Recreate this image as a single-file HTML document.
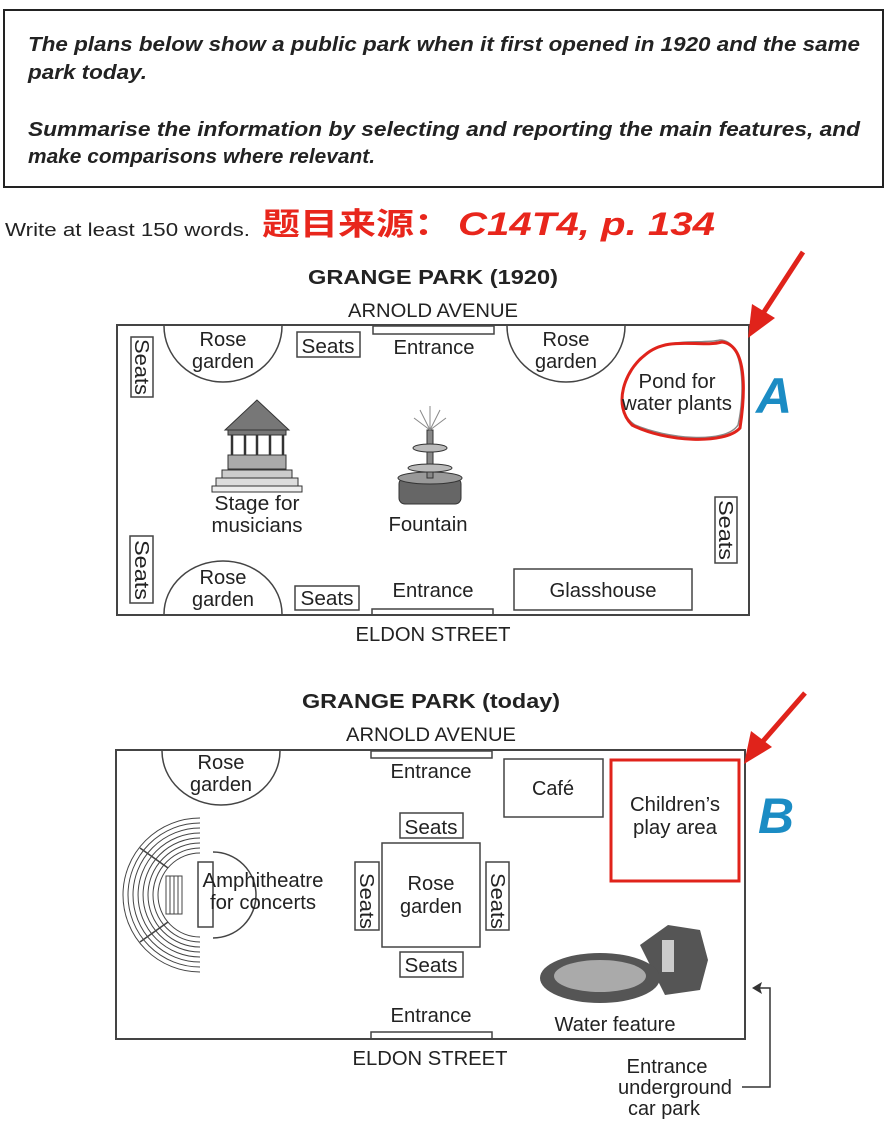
<!DOCTYPE html>
<html><head><meta charset="utf-8"><style>
html,body{margin:0;padding:0;background:#fff}
svg{display:block}
text{font-family:"Liberation Sans",Arial,sans-serif;fill:#222}
</style></head><body>
<svg width="896" height="1125" viewBox="0 0 896 1125" xmlns="http://www.w3.org/2000/svg">
<rect x="4" y="10" width="879" height="177" fill="none" stroke="#222" stroke-width="2"/>
<g font-style="italic" font-weight="bold" font-size="20" lengthAdjust="spacingAndGlyphs">
<text x="28" y="51" textLength="832" lengthAdjust="spacingAndGlyphs">The plans below show a public park when it first opened in 1920 and the same</text>
<text x="28" y="79" textLength="119" lengthAdjust="spacingAndGlyphs">park today.</text>
<text x="28" y="136" textLength="832" lengthAdjust="spacingAndGlyphs">Summarise the information by selecting and reporting the main features, and</text>
<text x="28" y="163" textLength="347" lengthAdjust="spacingAndGlyphs">make comparisons where relevant.</text>
</g>
<text x="5" y="236" font-size="18" textLength="245" lengthAdjust="spacingAndGlyphs">Write at least 150 words.</text>
<text x="262" y="235" font-size="31" font-weight="bold" textLength="190" lengthAdjust="spacingAndGlyphs" style="fill:#e8261c;font-family:'Liberation Sans','Noto Sans CJK SC',sans-serif">题目来源：</text>
<text x="458" y="235" font-size="32" font-weight="bold" font-style="italic" textLength="257" lengthAdjust="spacingAndGlyphs" style="fill:#e8261c">C14T4, p. 134</text>

<!-- Park 1920 -->
<text x="308" y="284" font-size="20" font-weight="bold" textLength="250" lengthAdjust="spacingAndGlyphs">GRANGE PARK (1920)</text>
<text x="348" y="317" font-size="19" textLength="170" lengthAdjust="spacingAndGlyphs">ARNOLD AVENUE</text>
<rect x="117" y="325" width="632" height="290" fill="none" stroke="#444" stroke-width="2"/>
<g fill="none" stroke="#444" stroke-width="1.5">
<rect x="131" y="337" width="22" height="60"/>
<path d="M164 326 A59 56 0 0 0 282 326"/>
<rect x="297" y="332" width="63" height="25"/>
<rect x="373" y="326" width="121" height="8"/>
<path d="M507 326 A59 56 0 0 0 625 326"/>
<rect x="715" y="497" width="22" height="66"/>
<rect x="130" y="536" width="23" height="67"/>
<path d="M164 614 A59 53 0 0 1 282 614"/>
<rect x="295" y="586" width="64" height="24"/>
<rect x="372" y="609" width="121" height="6"/>
<rect x="514" y="569" width="178" height="41"/>
<path d="M640 360 C660 335 700 345 720 340 C745 340 745 395 738 425 C725 445 665 438 635 425 C612 410 622 375 640 360Z" stroke="#888"/>
</g>
<path d="M645 355 C668 335 700 348 722 342 C748 345 745 395 740 428 C725 445 665 442 632 425 C612 405 625 370 645 355Z" fill="none" stroke="#e0231b" stroke-width="3"/>
<g font-size="20" text-anchor="middle">
<text x="223" y="346" textLength="47" lengthAdjust="spacingAndGlyphs">Rose</text><text x="223" y="368" textLength="62" lengthAdjust="spacingAndGlyphs">garden</text>
<text x="328" y="353" textLength="53" lengthAdjust="spacingAndGlyphs">Seats</text>
<text x="434" y="354" textLength="81" lengthAdjust="spacingAndGlyphs">Entrance</text>
<text x="566" y="346" textLength="47" lengthAdjust="spacingAndGlyphs">Rose</text><text x="566" y="368" textLength="62" lengthAdjust="spacingAndGlyphs">garden</text>
<text x="677" y="388" textLength="77" lengthAdjust="spacingAndGlyphs">Pond for</text><text x="677" y="410" textLength="110" lengthAdjust="spacingAndGlyphs">water plants</text>
<text x="257" y="510" textLength="85" lengthAdjust="spacingAndGlyphs">Stage for</text><text x="257" y="532" textLength="91" lengthAdjust="spacingAndGlyphs">musicians</text>
<text x="428" y="531" textLength="79" lengthAdjust="spacingAndGlyphs">Fountain</text>
<text x="223" y="584" textLength="47" lengthAdjust="spacingAndGlyphs">Rose</text><text x="223" y="606" textLength="62" lengthAdjust="spacingAndGlyphs">garden</text>
<text x="327" y="605" textLength="53" lengthAdjust="spacingAndGlyphs">Seats</text>
<text x="433" y="597" textLength="81" lengthAdjust="spacingAndGlyphs">Entrance</text>
<text x="603" y="597" textLength="107" lengthAdjust="spacingAndGlyphs">Glasshouse</text>
<text x="433" y="641" textLength="155" lengthAdjust="spacingAndGlyphs">ELDON STREET</text>
<text transform="translate(135,367) rotate(90)" textLength="56" lengthAdjust="spacingAndGlyphs">Seats</text>
<text transform="translate(135,570) rotate(90)" textLength="60" lengthAdjust="spacingAndGlyphs">Seats</text>
<text transform="translate(719,530) rotate(90)" textLength="60" lengthAdjust="spacingAndGlyphs">Seats</text>
</g>
<!-- stage -->
<g stroke="#333" fill="#777">
<path d="M257 400 L225 430 L289 430 Z"/>
<rect x="228" y="430" width="58" height="5"/>
<g stroke-width="2.5"><line x1="232" y1="435" x2="232" y2="470"/><line x1="245" y1="435" x2="245" y2="470"/><line x1="257" y1="435" x2="257" y2="470"/><line x1="270" y1="435" x2="270" y2="470"/><line x1="283" y1="435" x2="283" y2="470"/></g>
<rect x="228" y="455" width="58" height="14" fill="#aaa"/>
<rect x="222" y="470" width="70" height="8" fill="#ccc"/>
<rect x="216" y="478" width="82" height="8" fill="#ddd"/>
<rect x="212" y="486" width="90" height="6" fill="#eee"/>
<rect x="399" y="478" width="62" height="26" rx="6" fill="#666"/>
<ellipse cx="430" cy="478" rx="32" ry="6" fill="#999"/>
<rect x="427" y="430" width="6" height="48" fill="#888"/>
<ellipse cx="430" cy="468" rx="22" ry="4" fill="#bbb"/>
<ellipse cx="430" cy="448" rx="17" ry="4" fill="#bbb"/>
</g>
<g stroke="#888" stroke-width="1"><line x1="430" y1="430" x2="420" y2="410"/><line x1="430" y1="430" x2="430" y2="406"/><line x1="430" y1="430" x2="440" y2="410"/><line x1="430" y1="430" x2="414" y2="418"/><line x1="430" y1="430" x2="446" y2="418"/></g>
<!-- arrow A -->
<line x1="803" y1="252" x2="760" y2="318" stroke="#e0231b" stroke-width="5"/>
<path d="M748 338 L752 304 L775 318 Z" fill="#e0231b"/>
<text x="756" y="413" font-size="50" font-weight="bold" font-style="italic" style="fill:#1b8cc4">A</text>

<!-- Park today -->
<text x="302" y="708" font-size="20" font-weight="bold" textLength="258" lengthAdjust="spacingAndGlyphs">GRANGE PARK (today)</text>
<text x="346" y="741" font-size="19" textLength="170" lengthAdjust="spacingAndGlyphs">ARNOLD AVENUE</text>
<rect x="116" y="750" width="629" height="289" fill="none" stroke="#444" stroke-width="2"/>
<g fill="none" stroke="#444" stroke-width="1.5">
<path d="M162 751 A59 54 0 0 0 280 751"/>
<rect x="371" y="751" width="121" height="7"/>
<rect x="504" y="759" width="99" height="58"/>
<rect x="400" y="813" width="63" height="25"/>
<rect x="382" y="843" width="98" height="104"/>
<rect x="355" y="862" width="24" height="68"/>
<rect x="486" y="862" width="23" height="68"/>
<rect x="400" y="952" width="63" height="25"/>
<rect x="371" y="1032" width="121" height="7"/>
<rect x="198" y="862" width="15" height="65"/>
<path d="M213 852 A43 43 0 0 1 213 938"/>
<g stroke-width="1">
<path d="M200 818 A77 77 0 0 0 200 972"/>
<path d="M200 823 A72 72 0 0 0 200 967"/>
<path d="M200 828 A67 67 0 0 0 200 962"/>
<path d="M200 833 A62 62 0 0 0 200 957"/>
<path d="M200 838 A57 57 0 0 0 200 952"/>
<path d="M200 843 A52 52 0 0 0 200 947"/>
<path d="M200 848 A47 47 0 0 0 200 942"/>
<path d="M200 853 A42 42 0 0 0 200 937"/>
</g>
<line x1="140" y1="848" x2="168" y2="868"/><line x1="140" y1="942" x2="168" y2="922"/>
<rect x="166" y="876" width="16" height="38" stroke-width="1"/>
<line x1="170" y1="876" x2="170" y2="914" stroke-width="1"/><line x1="174" y1="876" x2="174" y2="914" stroke-width="1"/><line x1="178" y1="876" x2="178" y2="914" stroke-width="1"/>
</g>
<rect x="611" y="760" width="128" height="121" fill="none" stroke="#e0231b" stroke-width="3"/>
<!-- water feature -->
<path d="M640 945 L668 925 L700 930 L708 960 L700 990 L665 995 Z" fill="#555"/>
<ellipse cx="600" cy="978" rx="60" ry="25" fill="#555"/>
<ellipse cx="600" cy="976" rx="46" ry="16" fill="#aaa"/>
<rect x="662" y="940" width="12" height="32" fill="#ccc"/>
<g font-size="20" text-anchor="middle">
<text x="221" y="769" textLength="47" lengthAdjust="spacingAndGlyphs">Rose</text><text x="221" y="791" textLength="62" lengthAdjust="spacingAndGlyphs">garden</text>
<text x="431" y="778" textLength="81" lengthAdjust="spacingAndGlyphs">Entrance</text>
<text x="553" y="795" textLength="42" lengthAdjust="spacingAndGlyphs">Café</text>
<text x="675" y="811" textLength="90" lengthAdjust="spacingAndGlyphs">Children’s</text><text x="675" y="834" textLength="84" lengthAdjust="spacingAndGlyphs">play area</text>
<text x="431" y="834" textLength="53" lengthAdjust="spacingAndGlyphs">Seats</text>
<text x="431" y="890" textLength="47" lengthAdjust="spacingAndGlyphs">Rose</text><text x="431" y="913" textLength="62" lengthAdjust="spacingAndGlyphs">garden</text>
<text x="431" y="972" textLength="53" lengthAdjust="spacingAndGlyphs">Seats</text>
<text x="263" y="887" textLength="121" lengthAdjust="spacingAndGlyphs">Amphitheatre</text><text x="263" y="909" textLength="106" lengthAdjust="spacingAndGlyphs">for concerts</text>
<text x="431" y="1022" textLength="81" lengthAdjust="spacingAndGlyphs">Entrance</text>
<text x="615" y="1031" textLength="121" lengthAdjust="spacingAndGlyphs">Water feature</text>
<text x="430" y="1065" textLength="155" lengthAdjust="spacingAndGlyphs">ELDON STREET</text>
<text x="667" y="1073" textLength="81" lengthAdjust="spacingAndGlyphs">Entrance</text><text x="675" y="1094" textLength="114" lengthAdjust="spacingAndGlyphs">underground</text><text x="664" y="1115" textLength="72" lengthAdjust="spacingAndGlyphs">car park</text>
<text transform="translate(360,873) rotate(90)" text-anchor="start" textLength="56" lengthAdjust="spacingAndGlyphs">Seats</text>
<text transform="translate(491,873) rotate(90)" text-anchor="start" textLength="56" lengthAdjust="spacingAndGlyphs">Seats</text>
</g>
<g stroke="#333" stroke-width="1.5" fill="none"><path d="M742 1087 L770 1087 L770 988 L758 988"/></g>
<path d="M752 988 L762 982 L760 988 L762 994 Z" fill="#333"/>
<!-- arrow B -->
<line x1="805" y1="693" x2="757" y2="748" stroke="#e0231b" stroke-width="5"/>
<path d="M744 764 L751 731 L772 747 Z" fill="#e0231b"/>
<text x="758" y="833" font-size="50" font-weight="bold" font-style="italic" style="fill:#1b8cc4">B</text>
</svg>
</body></html>
